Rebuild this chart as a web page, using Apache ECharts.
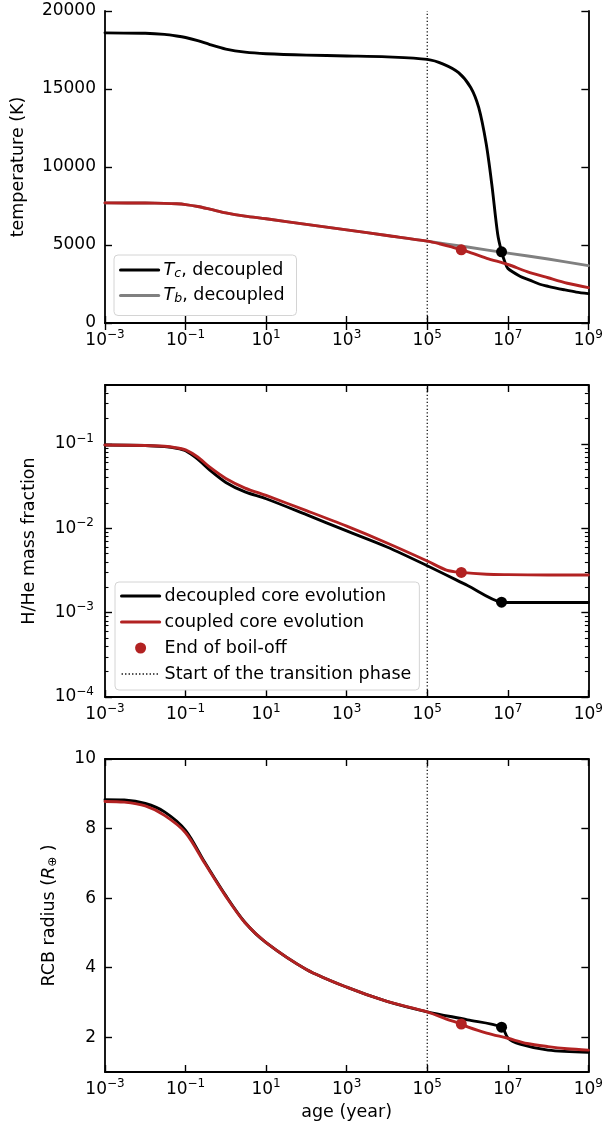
<!DOCTYPE html>
<html><head><meta charset="utf-8">
<script src="https://cdn.jsdelivr.net/npm/echarts@6/dist/echarts.min.js"></script>
<style>html,body{margin:0;padding:0;background:#fff}#c{width:606px;height:1129px}</style>
</head><body><div id="c"></div><script>
// ---------- data (age in years) ----------
const xTickValues = [1e-3, 1e-1, 1e1, 1e3, 1e5, 1e7, 1e9];
const tempTicks = [0, 5000, 10000, 15000, 20000];
const fracTicks = [1e-4, 1e-3, 1e-2, 1e-1];
const fracMinorTicks = [2e-4,3e-4,4e-4,5e-4,6e-4,7e-4,8e-4,9e-4,2e-3,3e-3,4e-3,5e-3,6e-3,7e-3,8e-3,9e-3,2e-2,3e-2,4e-2,5e-2,6e-2,7e-2,8e-2,9e-2,2e-1,3e-1,4e-1];
const radiusTicks = [2, 4, 6, 8, 10];

// panel 1: temperature
const ageTc  = [1e-3,1e-2,3e-2,0.06,0.1,0.2,0.4,1,3,10,100,1e3,1e4,1e5,2.5e5,6e5,1.2e6,1.9e6,2.9e6,4e6,5.6e6,7e6,8.5e6,1e7,2e7,3.5e7,6e7,1e8,2.5e8,5e8,1e9];
const tempTc = [18600,18570,18500,18400,18300,18100,17850,17560,17360,17260,17170,17120,17060,16900,16600,16050,15100,13800,11500,8900,5700,4560,3900,3500,3000,2750,2500,2350,2130,1980,1880];
const ageTb  = [1e-3,1e-2,3e-2,0.06,0.1,0.2,0.4,1,3,10,100,1e3,1e4,1e5,1e6,1e7,1e8,1e9];
const tempTb = [7700,7690,7670,7640,7590,7470,7300,7060,6850,6680,6320,5970,5610,5245,4870,4480,4100,3680];
const ageTcpl  = [1e-3,1e-2,3e-2,0.06,0.1,0.2,0.4,1,3,10,100,1e3,1e4,1e5,2e5,4e5,7e5,1e6,3e6,1e7,3e7,1e8,3e8,1e9];
const tempTcpl = [7700,7690,7670,7640,7590,7470,7300,7060,6850,6680,6320,5970,5610,5245,5080,4880,4690,4580,4150,3750,3300,2900,2550,2270];

// panel 2: H/He mass fraction
const ageFracDec = [1e-3,1e-2,3e-2,0.06,0.1,0.2,0.4,1,3,10,100,1e3,1e4,1e5,1e6,7e6,1e7,1e8,1e9];
const fracDec    = [0.097,0.096,0.093,0.089,0.083,0.066,0.049,0.035,0.027,0.0224,0.0145,0.0093,0.0060,0.0036,0.0021,0.00133,0.00132,0.00132,0.00132];
const ageFracCpl = [1e-3,1e-2,3e-2,0.06,0.1,0.2,0.4,1,3,10,100,1e3,1e4,1e5,3e5,7e5,3e6,1e7,1e8,1e9];
const fracCpl    = [0.097,0.096,0.094,0.090,0.085,0.070,0.053,0.039,0.030,0.0245,0.0162,0.0106,0.0067,0.0041,0.0032,0.0030,0.00285,0.00282,0.0028,0.0028];

// panel 3: RCB radius
const ageRadDec = [1e-3,3e-3,1e-2,3e-2,0.1,0.3,1,3,10,100,1e3,1e4,1e5,1e6,7e6,1e7,2e7,1e8,1e9];
const radDec    = [8.83,8.82,8.72,8.48,7.95,7.03,6.07,5.30,4.72,3.95,3.44,3.03,2.73,2.50,2.29,1.98,1.80,1.63,1.57];
const ageRadCpl = [1e-3,3e-3,1e-2,3e-2,0.1,0.3,1,3,10,100,1e3,1e4,1e5,3e5,7e5,1e6,3e6,1e7,3e7,1e8,3e8,1e9];
const radCpl    = [8.78,8.76,8.65,8.38,7.88,7.00,6.05,5.29,4.72,3.95,3.44,3.03,2.73,2.52,2.38,2.30,2.12,1.97,1.82,1.73,1.67,1.63];

// markers: end of boil-off
const boilAgeCpl = 7e5, boilAgeDec = 7e6;
const boilTemp = [4690, 4560];     // [coupled, decoupled]
const boilFrac = [0.0030, 0.00133];
const boilRad  = [2.38, 2.29];
const transitionAge = 1e5;

// ---------- styling ----------
const FONT = 'DejaVu Sans';
const RED = '#b22222', BLACK = '#000000', GRAY = '#808080';
const LW = 2.9;
const TICKFS = 17, TITLEFS = 17.5, LEGFS = 17.5;
const zip = (a, b) => a.map((v, i) => [v, b[i]]);

const supRich = {
  b: {fontSize: TICKFS, fontFamily: FONT, color: '#000'},
  s: {fontSize: 12, fontFamily: FONT, color: '#000', padding: [0, 0, 11, 0]}
};
function powLabel(v) {
  const e = Math.round(Math.log10(v));
  return '{b|10}{s|' + (e < 0 ? '\u2212' + (-e) : e) + '}';
}

const grids = [
  {left: 105, width: 484, top: 11, height: 312},
  {left: 105, width: 484, top: 385, height: 312},
  {left: 105, width: 484, top: 759, height: 313}
];

const spine = {show: true, lineStyle: {color: '#000', width: 1.8}};
function xAxes(g, withName) {
  return [
    {type: 'log', logBase: 10, gridIndex: g, position: 'bottom', min: 1e-3, max: 1e9,
     axisLine: spine, splitLine: {show: false},
     axisTick: {inside: true, length: 7, customValues: xTickValues, lineStyle: {color: '#000', width: 1.4}},
     axisLabel: {customValues: xTickValues, formatter: powLabel, rich: supRich, margin: 6},
     name: withName ? 'age (year)' : '', nameLocation: 'middle', nameGap: 31,
     nameTextStyle: {fontSize: TITLEFS, fontFamily: FONT, color: '#000'}},
    {type: 'log', logBase: 10, gridIndex: g, position: 'top', min: 1e-3, max: 1e9,
     axisLine: spine, splitLine: {show: false},
     axisTick: {inside: true, length: 7, customValues: xTickValues, lineStyle: {color: '#000', width: 1.4}},
     axisLabel: {show: false}}
  ];
}

const yAxis = [
  // panel 1
  {type: 'value', gridIndex: 0, position: 'left', min: 0, max: 20000,
   axisLine: spine, splitLine: {show: false},
   axisTick: {inside: true, length: 7, customValues: tempTicks, lineStyle: {color: '#000', width: 1.4}},
   axisLabel: {customValues: tempTicks, formatter: v => String(v), fontSize: TICKFS, fontFamily: FONT, color: '#000', margin: 9},
   name: 'temperature (K)', nameLocation: 'middle', nameGap: 78,
   nameTextStyle: {fontSize: TITLEFS, fontFamily: FONT, color: '#000'}},
  {type: 'value', gridIndex: 0, position: 'right', min: 0, max: 20000,
   axisLine: spine, splitLine: {show: false},
   axisTick: {inside: true, length: 7, customValues: tempTicks, lineStyle: {color: '#000', width: 1.4}},
   axisLabel: {show: false}},
  // panel 2
  {type: 'log', logBase: 10, gridIndex: 1, position: 'left', min: 1e-4, max: 0.5,
   axisLine: spine, splitLine: {show: false},
   axisTick: {inside: true, length: 7, customValues: fracTicks, lineStyle: {color: '#000', width: 1.4}},
   axisLabel: {customValues: fracTicks, formatter: powLabel, rich: supRich, margin: 11},
   name: 'H/He mass fraction', nameLocation: 'middle', nameGap: 67,
   nameTextStyle: {fontSize: TITLEFS, fontFamily: FONT, color: '#000'}},
  {type: 'log', logBase: 10, gridIndex: 1, position: 'right', min: 1e-4, max: 0.5,
   axisLine: spine, splitLine: {show: false},
   axisTick: {inside: true, length: 7, customValues: fracTicks, lineStyle: {color: '#000', width: 1.4}},
   axisLabel: {show: false}},
  {type: 'log', logBase: 10, gridIndex: 1, position: 'left', min: 1e-4, max: 0.5,
   axisLine: {show: false}, splitLine: {show: false},
   axisTick: {inside: true, length: 3.5, customValues: fracMinorTicks, lineStyle: {color: '#000', width: 1.1}},
   axisLabel: {show: false}},
  {type: 'log', logBase: 10, gridIndex: 1, position: 'right', min: 1e-4, max: 0.5,
   axisLine: {show: false}, splitLine: {show: false},
   axisTick: {inside: true, length: 3.5, customValues: fracMinorTicks, lineStyle: {color: '#000', width: 1.1}},
   axisLabel: {show: false}},
  // panel 3
  {type: 'value', gridIndex: 2, position: 'left', min: 1, max: 10,
   axisLine: spine, splitLine: {show: false},
   axisTick: {inside: true, length: 7, customValues: radiusTicks, lineStyle: {color: '#000', width: 1.4}},
   axisLabel: {customValues: radiusTicks, formatter: v => String(v), fontSize: TICKFS, fontFamily: FONT, color: '#000', margin: 9},
   name: '{n|RCB radius (}{i|R}{s|\u2295}{n| )}', nameLocation: 'middle', nameGap: 46,
   nameTextStyle: {fontSize: TITLEFS, fontFamily: FONT, color: '#000',
     rich: {n: {fontSize: TITLEFS, fontFamily: FONT, color: '#000'},
            i: {fontSize: TITLEFS, fontFamily: FONT, fontStyle: 'italic', color: '#000'},
            s: {fontSize: 12, fontFamily: FONT, color: '#000', padding: [7, 0, 0, 0]}}}},
  {type: 'value', gridIndex: 2, position: 'right', min: 1, max: 10,
   axisLine: spine, splitLine: {show: false},
   axisTick: {inside: true, length: 7, customValues: radiusTicks, lineStyle: {color: '#000', width: 1.4}},
   axisLabel: {show: false}}
];

function lineSeries(name, x, y, xi, yi, color, z) {
  return {type: 'line', name, xAxisIndex: xi, yAxisIndex: yi, data: zip(x, y),
          symbol: 'none', smooth: 0.3, z: z || 3,
          lineStyle: {color, width: LW, cap: 'round', join: 'round'}, itemStyle: {color}};
}
function dotSeries(name, pts, xi, yi, color) {
  return {type: 'scatter', name, xAxisIndex: xi, yAxisIndex: yi, data: pts,
          symbol: 'circle', symbolSize: 11, z: 6, itemStyle: {color, opacity: 1}};
}
function transitionSeries(xi, yi, y0, y1) {
  return {type: 'line', name: 'Start of the transition phase', xAxisIndex: xi, yAxisIndex: yi,
          data: [[transitionAge, y0], [transitionAge, y1]], symbol: 'none', z: 2,
          lineStyle: {color: '#000', width: 1.2, type: [1.3, 2.2]}, itemStyle: {color: '#000'}};
}

const series = [
  // panel 1
  transitionSeries(0, 0, 0, 20000),
  lineSeries('Tb', ageTb, tempTb, 0, 0, GRAY, 3),
  lineSeries('Tc', ageTc, tempTc, 0, 0, BLACK, 4),
  lineSeries('coupled core evolution', ageTcpl, tempTcpl, 0, 0, RED, 5),
  dotSeries('End of boil-off', [[boilAgeCpl, boilTemp[0]]], 0, 0, RED),
  dotSeries('End of boil-off (decoupled)', [[boilAgeDec, boilTemp[1]]], 0, 0, BLACK),
  // panel 2
  transitionSeries(2, 2, 1e-4, 0.5),
  lineSeries('decoupled core evolution', ageFracDec, fracDec, 2, 2, BLACK, 4),
  lineSeries('coupled core evolution', ageFracCpl, fracCpl, 2, 2, RED, 5),
  dotSeries('End of boil-off', [[boilAgeCpl, boilFrac[0]]], 2, 2, RED),
  dotSeries('End of boil-off (decoupled)', [[boilAgeDec, boilFrac[1]]], 2, 2, BLACK),
  // panel 3
  transitionSeries(4, 6, 1, 10),
  lineSeries('decoupled core evolution', ageRadDec, radDec, 4, 6, BLACK, 4),
  lineSeries('coupled core evolution', ageRadCpl, radCpl, 4, 6, RED, 5),
  dotSeries('End of boil-off', [[boilAgeCpl, boilRad[0]]], 4, 6, RED),
  dotSeries('End of boil-off (decoupled)', [[boilAgeDec, boilRad[1]]], 4, 6, BLACK)
];

const hideSym = {opacity: 0};
const legendBase = {
  orient: 'vertical', itemWidth: 38, itemHeight: 11, itemTextGap: 8,
  backgroundColor: 'rgba(255,255,255,0.85)', borderColor: '#d4d4d4', borderWidth: 1, borderRadius: 4,
  selectedMode: false,
  lineStyle: {width: 3.2},
  textStyle: {fontSize: LEGFS, fontFamily: FONT, color: '#000'}
};
const legendRich = {
  i: {fontSize: LEGFS, fontFamily: FONT, fontStyle: 'italic', color: '#000'},
  sb: {fontSize: 12.5, fontFamily: FONT, fontStyle: 'italic', color: '#000', padding: [7, 0, 0, 0]},
  n: {fontSize: LEGFS, fontFamily: FONT, color: '#000'}
};

const option = {
  animation: false,
  backgroundColor: '#fff',
  grid: grids,
  xAxis: [].concat(xAxes(0, false), xAxes(1, false), xAxes(2, true)),
  yAxis,
  legend: [
    Object.assign({}, legendBase, {
      left: 114, top: 255, padding: [6, 12, 10, 5], itemGap: 6.5,
      data: [{name: 'Tc', itemStyle: hideSym}, {name: 'Tb', itemStyle: hideSym}],
      formatter: n => n === 'Tc' ? '{i|T}{sb|c}{n|, decoupled}' : '{i|T}{sb|b}{n|, decoupled}',
      textStyle: Object.assign({}, legendBase.textStyle, {rich: legendRich})
    }),
    Object.assign({}, legendBase, {
      left: 115, top: 582, padding: [5, 8, 7, 5], itemGap: 8,
      data: [{name: 'decoupled core evolution', itemStyle: hideSym},
             {name: 'coupled core evolution', itemStyle: hideSym},
             {name: 'End of boil-off', icon: 'circle'},
             {name: 'Start of the transition phase', itemStyle: hideSym, lineStyle: {width: 1.3}}]
    })
  ],
  series
};

const chart = echarts.init(document.getElementById('c'), null, {renderer: 'canvas'});
chart.setOption(option);
</script></body></html>
